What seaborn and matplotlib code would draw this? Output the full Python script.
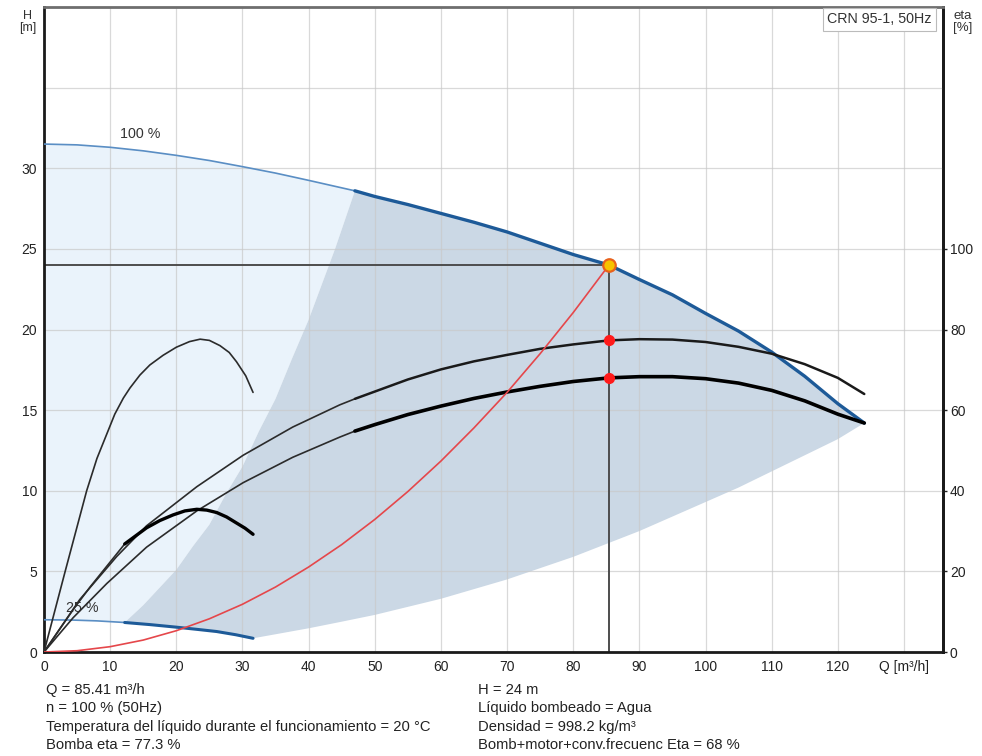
import numpy as np
import pandas as pd
import matplotlib
matplotlib.use("Agg")
import matplotlib.pyplot as plt
import seaborn as sns

# ---------------- data ----------------
# 100 % speed QH curve
QH100_Q = [0, 5, 10, 15, 20, 25, 30, 35, 40, 47, 50, 55, 60, 65, 70, 75, 80, 85.41,
           90, 95, 100, 105, 110, 115, 120, 124]
QH100_H = [31.5, 31.45, 31.3, 31.08, 30.8, 30.48, 30.1, 29.7, 29.25, 28.6, 28.25, 27.75,
           27.2, 26.65, 26.05, 25.35, 24.65, 24.0, 23.1, 22.15, 21.0, 19.9, 18.6, 17.1,
           15.4, 14.2]
# 25 % speed QH curve
QH25_Q = [0, 4.4, 8, 12.2, 16, 20, 23, 26.1, 29, 31.6]
QH25_H = [2.0, 1.98, 1.93, 1.83, 1.7, 1.54, 1.41, 1.27, 1.07, 0.85]
# left limit of the operating range (min flow line)
LEFT_Q = [12.2, 15, 17.5, 20, 22.5, 25, 27.5, 30, 32.5, 35, 37.5, 40, 42, 44, 45.5, 47]
LEFT_H = [1.83, 2.9, 4.0, 5.1, 6.55, 7.9, 9.8, 11.5, 13.7, 15.7, 18.2, 20.6, 22.8,
          25.0, 26.8, 28.6]
# lower limit of the operating range (max flow line)
LOW_Q = [31.6, 35, 40, 45, 50, 55, 60, 65, 70, 75, 80, 85, 90, 95, 100, 105, 110, 115,
         120, 124]
LOW_H = [0.85, 1.1, 1.47, 1.88, 2.3, 2.8, 3.3, 3.9, 4.5, 5.2, 5.9, 6.7, 7.5, 8.4, 9.3,
         10.2, 11.2, 12.2, 13.2, 14.2]
# pump efficiency at 100 % speed (eta %)
ETA_P_Q = [0, 5.4, 11, 15.5, 23.1, 30.1, 37.6, 44.7, 47, 50, 55, 60, 65, 70, 75, 80,
           85.41, 90, 95, 100, 105, 110, 115, 120, 124]
ETA_P = [0, 13, 23.7, 31.3, 41, 48.8, 55.8, 61.3, 62.8, 64.6, 67.6, 70.1, 72.1, 73.7,
         75.2, 76.3, 77.3, 77.6, 77.5, 76.9, 75.7, 74.0, 71.4, 68.0, 64.0]
# pump + motor + converter efficiency at 100 % speed
ETA_T_Q = [0, 4.4, 9.5, 15.5, 23.1, 30.1, 37.6, 44.7, 47, 50, 55, 60, 65, 70, 75, 80,
           85.41, 90, 95, 100, 105, 110, 115, 120, 124]
ETA_T = [0, 8.5, 17, 26, 35, 42, 48.3, 53.3, 54.8, 56.4, 58.9, 61.0, 62.9, 64.5, 65.9,
         67.1, 68.0, 68.3, 68.3, 67.8, 66.7, 64.9, 62.3, 59.0, 56.8]
# efficiencies at 25 % speed
ETA25P_Q = [0, 3.2, 6.45, 8, 10.7, 12, 13, 14.5, 16, 18, 20, 22, 23.6, 25, 26.6, 28,
            29.1, 30.5, 31.6]
ETA25P = [0, 20, 40, 48, 59, 63, 65.5, 68.7, 71.2, 73.6, 75.6, 77.0, 77.6, 77.3, 76.0,
          74.3, 72.0, 68.5, 64.4]
ETA25T_Q = [0, 4.4, 7, 9.5, 12.2, 15.5, 17.5, 19.5, 21.3, 23.1, 24.6, 26.1, 27.6, 29.1,
            30.4, 31.6]
ETA25T = [0, 10.5, 16.2, 21.3, 26.8, 30.8, 32.6, 34.0, 35.0, 35.4, 35.2, 34.6, 33.5,
          32.0, 30.7, 29.2]
# system curve
SYS_Q = [0, 5, 10, 15, 20, 25, 30, 35, 40, 45, 50, 55, 60, 65, 70, 75, 80, 85.41]
SYS_H = [0, 0.08, 0.33, 0.74, 1.32, 2.06, 2.96, 4.03, 5.27, 6.66, 8.22, 9.95, 11.84,
         13.9, 16.1, 18.5, 21.05, 24.0]
# duty point
Q_OP, H_OP = 85.41, 24.0
ETA_PUMP_OP, ETA_TOT_OP = 77.3, 68.0
Q_THICK = 47          # start of thick (recommended) part at 100 %
Q_THICK25 = 12.2      # start of thick part at 25 %

X_TICKS = [0, 10, 20, 30, 40, 50, 60, 70, 80, 90, 100, 110, 120, 130]
X_LABELS = ['0', '10', '20', '30', '40', '50', '60', '70', '80', '90', '100', '110',
            '120', 'Q [m³/h]']
Y_TICKS = [0, 5, 10, 15, 20, 25, 30, 35, 40]
Y_LABELS = ['0', '5', '10', '15', '20', '25', '30', '', '']
ETA_TICKS = [0, 20, 40, 60, 80, 100]
ETA_PER_M = 4.0   # right-axis scale: 160 % over 40 m

INFO_LEFT = ["Q = 85.41 m³/h", "n = 100 % (50Hz)",
             "Temperatura del líquido durante el funcionamiento = 20 °C",
             "Bomba eta = 77.3 %"]
INFO_RIGHT = ["H = 24 m", "Líquido bombeado = Agua",
              "Densidad = 998.2 kg/m³", "Bomb+motor+conv.frecuenc Eta = 68 %"]

# ---------------- styling ----------------
sns.set_style("white")
plt.rcParams['font.family'] = ['Liberation Sans', 'DejaVu Sans']

W, Hh = 982, 756
fig = plt.figure(figsize=(W / 100, Hh / 100), dpi=100)
ax = fig.add_axes([44 / W, 1 - 652 / Hh, 899 / W, 645 / Hh])

LIGHT = '#eaf3fb'
DARK = '#cbd8e5'
BLUE_THIN = '#5a8ec4'
BLUE_THICK = '#1d5a98'

df100 = pd.DataFrame({'Q': QH100_Q, 'H': QH100_H})
df25 = pd.DataFrame({'Q': QH25_Q, 'H': QH25_H})
dfl = pd.DataFrame({'Q': LEFT_Q, 'H': LEFT_H})
dflow = pd.DataFrame({'Q': LOW_Q, 'H': LOW_H})

# light region
top_l = df100[df100.Q <= Q_THICK]
bot_l = df25[df25.Q <= Q_THICK25]
px = list(top_l.Q) + list(dfl.Q[::-1]) + list(bot_l.Q[::-1])
py = list(top_l.H) + list(dfl.H[::-1]) + list(bot_l.H[::-1])
ax.fill(px, py, color=LIGHT, lw=0, zorder=0.1)

# dark region
top_d = df100[df100.Q >= Q_THICK]
bot_d = df25[df25.Q >= Q_THICK25]
px = list(top_d.Q) + list(dflow.Q[::-1]) + list(bot_d.Q[::-1]) + list(dfl.Q)
py = list(top_d.H) + list(dflow.H[::-1]) + list(bot_d.H[::-1]) + list(dfl.H)
ax.fill(px, py, color=DARK, lw=0, zorder=0.2)


def line(x, y, color, lw, z=3):
    sns.lineplot(x=list(x), y=list(y), ax=ax, color=color, lw=lw, sort=False,
                 estimator=None, legend=False, zorder=z,
                 solid_joinstyle='round', solid_capstyle='round')


# QH curves
line(top_l.Q, top_l.H, BLUE_THIN, 1.2)
line(top_d.Q, top_d.H, BLUE_THICK, 2.4)
line(bot_l.Q, bot_l.H, BLUE_THIN, 1.2)
line(bot_d.Q, bot_d.H, BLUE_THICK, 2.2)

# efficiency curves (plotted in left-axis units via the right-axis scale)
ep = pd.DataFrame({'Q': ETA_P_Q, 'H': np.array(ETA_P) / ETA_PER_M})
et = pd.DataFrame({'Q': ETA_T_Q, 'H': np.array(ETA_T) / ETA_PER_M})
ep25 = pd.DataFrame({'Q': ETA25P_Q, 'H': np.array(ETA25P) / ETA_PER_M})
et25 = pd.DataFrame({'Q': ETA25T_Q, 'H': np.array(ETA25T) / ETA_PER_M})

line(ep.Q[ep.Q <= Q_THICK], ep.H[ep.Q <= Q_THICK], '#2b2b2b', 1.2)
line(ep.Q[ep.Q >= Q_THICK], ep.H[ep.Q >= Q_THICK], '#1a1a1a', 1.8)
line(et.Q[et.Q <= Q_THICK], et.H[et.Q <= Q_THICK], '#2b2b2b', 1.2)
line(et.Q[et.Q >= Q_THICK], et.H[et.Q >= Q_THICK], '#000000', 2.6)
line(ep25.Q, ep25.H, '#2b2b2b', 1.2)
line(et25.Q[et25.Q <= Q_THICK25], et25.H[et25.Q <= Q_THICK25], '#2b2b2b', 1.2)
line(et25.Q[et25.Q >= Q_THICK25], et25.H[et25.Q >= Q_THICK25], '#000000', 2.4)

# system curve
line(SYS_Q, SYS_H, '#e5474b', 1.2, z=4)

# duty point lines
ax.plot([0, Q_OP], [H_OP, H_OP], color='#4d4d4d', lw=1.4, zorder=2.5)
ax.plot([Q_OP, Q_OP], [0, H_OP], color='#4d4d4d', lw=1.4, zorder=2.5)

# markers
ax.plot([Q_OP, Q_OP], [ETA_PUMP_OP / ETA_PER_M, ETA_TOT_OP / ETA_PER_M], 'o',
        color='#ff1a1a', ms=7, mec='#ff1a1a', zorder=6, ls='none')
ax.plot([Q_OP], [H_OP], 'o', ms=9, mfc='#f7c300', mec='#e8621c', mew=1.6, zorder=7)

# labels on curves
ax.text(11.5, 32.15, '100 %', fontsize=10.3, color='#333333', va='center', ha='left')
ax.text(3.4, 2.7, '25 %', fontsize=10.3, color='#333333', va='center', ha='left',
        zorder=2)

ax.set_xlim(0, 135.9)
ax.set_ylim(0, 40)
ax.set_xlabel('')
ax.set_ylabel('')

# grid and ticks
ax.set_axisbelow(True)
ax.set_xticks(X_TICKS)
ax.set_xticklabels(X_LABELS)
ax.set_yticks(Y_TICKS)
ax.set_yticklabels(Y_LABELS)
ax.grid(True, color='#c9c9c9', lw=0.9, alpha=0.7)
for t in ax.yaxis.get_major_ticks()[7:]:
    t.tick1line.set_visible(False)

for s in ['left', 'bottom', 'right']:
    ax.spines[s].set_color('#1a1a1a')
    ax.spines[s].set_linewidth(2)
ax.spines['top'].set_color('#6e6e6e')
ax.spines['top'].set_linewidth(2)
ax.tick_params(axis='y', direction='out', length=3, width=1, labelsize=10,
               colors='#222222', pad=2, right=False)
ax.tick_params(axis='x', direction='inout', length=7, width=1, labelsize=10,
               colors='#222222', pad=2)

sec = ax.secondary_yaxis('right', functions=(lambda h: h * ETA_PER_M,
                                             lambda e: e / ETA_PER_M))
sec.set_yticks(ETA_TICKS)
sec.tick_params(direction='out', length=3, width=1, labelsize=10, colors='#222222',
                pad=2)
sec.spines['right'].set_linewidth(2)
sec.spines['right'].set_color('#1a1a1a')

# axis titles
fig.text(28 / W, 1 - 22 / Hh, 'H\n[m]', fontsize=9, ha='center', va='center',
         color='#333333', linespacing=0.95)
fig.text(963 / W, 1 - 22 / Hh, 'eta\n[%]', fontsize=9.5, ha='center', va='center',
         color='#333333', linespacing=0.95)

# model box
ax.text(0.929, 0.981, 'CRN 95-1, 50Hz', transform=ax.transAxes, fontsize=10.3,
        ha='center', va='center', color='#333333', zorder=8,
        bbox=dict(boxstyle='square,pad=0.3', fc='white', ec='#bbbbbb', lw=0.8))

# info text
for i, s in enumerate(INFO_LEFT):
    fig.text(46 / W, 1 - (690 + i * 18.4) / Hh, s, fontsize=10.6, va='center',
             ha='left', color='#222222')
for i, s in enumerate(INFO_RIGHT):
    fig.text(478 / W, 1 - (690 + i * 18.4) / Hh, s, fontsize=10.6, va='center',
             ha='left', color='#222222')

fig.savefig('out.png', dpi=100, facecolor='white')
